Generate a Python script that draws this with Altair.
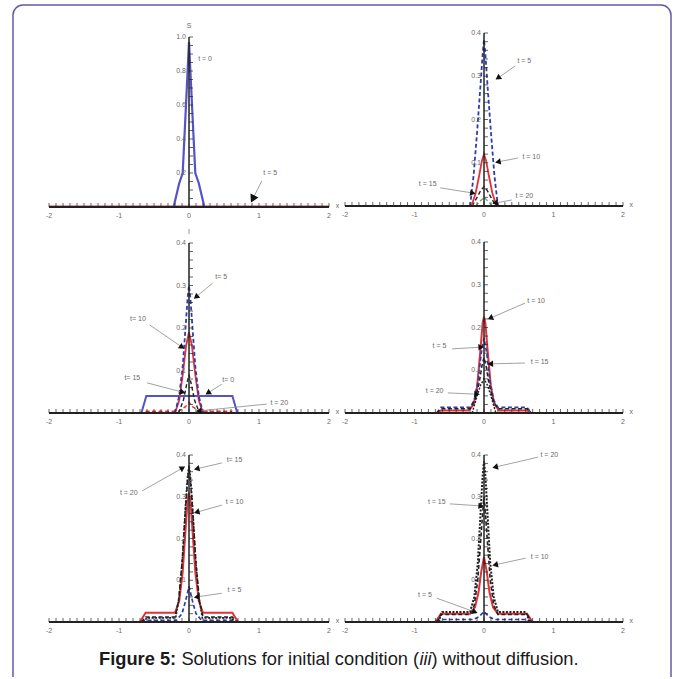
import math
import altair as alt
import pandas as pd

# ---------------- data ----------------
X_LABELS = [-2, -1, 0, 1, 2]
X_MINOR = [round(-2 + 0.1 * i, 2) for i in range(41)]

Y_LABELS_P1 = [0.2, 0.4, 0.6, 0.8, 1.0]
Y_LABEL_TEXT_P1 = ["0.2", "0.4", "0.6", "0.8", "1.0"]
Y_MINOR_P1 = [round(0.05 * i, 2) for i in range(1, 21)]
Y_LABELS_P = [0.1, 0.2, 0.3, 0.4]
Y_LABEL_TEXT_P = ["0.1", "0.2", "0.3", "0.4"]
Y_MINOR_P = [round(0.02 * i, 2) for i in range(1, 21)]

# Panel 1 (S)
P1_T0_X = [-0.22, -0.14, -0.09, -0.05, 0.0, 0.05, 0.09, 0.14, 0.22]
P1_T0_Y = [0.0, 0.14, 0.20, 0.54, 0.97, 0.54, 0.20, 0.14, 0.0]
P1_T5_X = [-2.0, 2.0]
P1_T5_Y = [0.003, 0.003]

# Panel 2
P2_T5_X = [-0.2, -0.15, -0.1, -0.05, -0.02, 0.0, 0.02, 0.05, 0.1, 0.15, 0.2]
P2_T5_Y = [0.0, 0.07, 0.17, 0.28, 0.35, 0.385, 0.35, 0.28, 0.17, 0.07, 0.0]
P2_T10_X = [-0.18, -0.12, -0.07, -0.03, 0.0, 0.03, 0.07, 0.12, 0.18]
P2_T10_Y = [0.0, 0.03, 0.07, 0.105, 0.12, 0.105, 0.07, 0.03, 0.0]
P2_T15_X = [-0.17, -0.1, -0.05, 0.0, 0.05, 0.1, 0.17]
P2_T15_Y = [0.0, 0.02, 0.035, 0.045, 0.035, 0.02, 0.0]
P2_T20_X = [-0.12, -0.05, 0.0, 0.05, 0.12]
P2_T20_Y = [0.0, 0.012, 0.02, 0.012, 0.0]

# Panel 3 (I)
P3_T0_X = [-0.68, -0.61, 0.62, 0.69]
P3_T0_Y = [0.0, 0.04, 0.04, 0.0]
P3_T5_X = [-0.2, -0.14, -0.09, -0.05, -0.02, 0.0, 0.02, 0.05, 0.09, 0.14, 0.2]
P3_T5_Y = [0.0, 0.04, 0.11, 0.2, 0.27, 0.3, 0.27, 0.2, 0.11, 0.04, 0.0]
P3_T10_X = [-0.2, -0.14, -0.09, -0.04, 0.0, 0.04, 0.09, 0.14, 0.2]
P3_T10_Y = [0.0, 0.03, 0.09, 0.16, 0.19, 0.16, 0.09, 0.03, 0.0]
P3_T15_X = [-0.15, -0.08, -0.03, 0.0, 0.03, 0.08, 0.15]
P3_T15_Y = [0.0, 0.03, 0.07, 0.09, 0.07, 0.03, 0.0]
P3_T20_X = [-0.62, -0.15, -0.05, 0.0, 0.05, 0.15, 0.62]
P3_T20_Y = [0.004, 0.004, 0.015, 0.025, 0.015, 0.004, 0.004]

# Panel 4
P4_T5_X = [-0.68, -0.62, -0.2, -0.14, -0.08, -0.04, 0.0, 0.04, 0.08, 0.14, 0.2, 0.62, 0.68]
P4_T5_Y = [0.0, 0.013, 0.013, 0.03, 0.08, 0.14, 0.175, 0.14, 0.08, 0.03, 0.013, 0.013, 0.0]
P4_T10_X = [-0.68, -0.62, -0.22, -0.15, -0.1, -0.05, -0.02, 0.0, 0.02, 0.05, 0.1, 0.15, 0.22, 0.62, 0.68]
P4_T10_Y = [0.0, 0.006, 0.006, 0.02, 0.06, 0.15, 0.21, 0.225, 0.21, 0.15, 0.06, 0.02, 0.006, 0.006, 0.0]
P4_T15_X = [-0.68, -0.62, -0.2, -0.13, -0.07, -0.03, 0.0, 0.03, 0.07, 0.13, 0.2, 0.62, 0.68]
P4_T15_Y = [0.0, 0.01, 0.01, 0.03, 0.07, 0.11, 0.13, 0.11, 0.07, 0.03, 0.01, 0.01, 0.0]
P4_T20_X = [-0.17, -0.1, -0.05, 0.0, 0.05, 0.1, 0.17]
P4_T20_Y = [0.0, 0.04, 0.065, 0.08, 0.065, 0.04, 0.0]

# Panel 5
P5_T5_X = [-0.68, -0.62, -0.18, -0.1, -0.05, 0.0, 0.05, 0.1, 0.18, 0.62, 0.68]
P5_T5_Y = [0.0, 0.004, 0.004, 0.02, 0.05, 0.085, 0.05, 0.02, 0.004, 0.004, 0.0]
P5_T10_X = [-0.7, -0.62, -0.2, -0.14, -0.09, -0.05, -0.02, 0.0, 0.02, 0.05, 0.09, 0.14, 0.2, 0.62, 0.7]
P5_T10_Y = [0.0, 0.022, 0.022, 0.05, 0.12, 0.22, 0.29, 0.31, 0.29, 0.22, 0.12, 0.05, 0.022, 0.022, 0.0]
P5_T15_X = [-0.68, -0.62, -0.2, -0.15, -0.1, -0.05, -0.02, 0.0, 0.02, 0.05, 0.1, 0.15, 0.2, 0.62, 0.68]
P5_T15_Y = [0.0, 0.012, 0.012, 0.05, 0.14, 0.27, 0.34, 0.37, 0.34, 0.27, 0.14, 0.05, 0.012, 0.012, 0.0]
P5_T20_X = [-0.66, -0.6, -0.19, -0.14, -0.09, -0.05, -0.02, 0.0, 0.02, 0.05, 0.09, 0.14, 0.19, 0.6, 0.66]
P5_T20_Y = [0.0, 0.01, 0.01, 0.06, 0.16, 0.28, 0.35, 0.375, 0.35, 0.28, 0.16, 0.06, 0.01, 0.01, 0.0]

# Panel 6
P6_T5_X = [-0.68, -0.62, -0.15, -0.07, 0.0, 0.07, 0.15, 0.62, 0.68]
P6_T5_Y = [0.0, 0.006, 0.006, 0.013, 0.025, 0.013, 0.006, 0.006, 0.0]
P6_T10_X = [-0.7, -0.62, -0.2, -0.13, -0.08, -0.04, 0.0, 0.04, 0.08, 0.13, 0.2, 0.62, 0.7]
P6_T10_Y = [0.0, 0.02, 0.02, 0.035, 0.07, 0.12, 0.155, 0.12, 0.07, 0.035, 0.02, 0.02, 0.0]
P6_T15_X = [-0.68, -0.62, -0.2, -0.14, -0.09, -0.05, -0.02, 0.0, 0.02, 0.05, 0.09, 0.14, 0.2, 0.62, 0.68]
P6_T15_Y = [0.0, 0.018, 0.018, 0.04, 0.1, 0.19, 0.26, 0.3, 0.26, 0.19, 0.1, 0.04, 0.018, 0.018, 0.0]
P6_T20_X = [-0.66, -0.6, -0.2, -0.14, -0.09, -0.05, -0.02, 0.0, 0.02, 0.05, 0.09, 0.14, 0.2, 0.6, 0.66]
P6_T20_Y = [0.0, 0.024, 0.024, 0.06, 0.14, 0.26, 0.35, 0.385, 0.35, 0.26, 0.14, 0.06, 0.024, 0.024, 0.0]

# Annotations: label, text x, text y, line-start x, y, head x, y
P1_ANN = [("t = 5", 1.16, 0.20, 1.04, 0.153, 0.91, 0.047)]
P1_TEXT = [("t = 0", 0.23, 0.87)]
P2_ANN = [("t = 5", 0.58, 0.335, 0.45, 0.324, 0.2, 0.296),
          ("t = 10", 0.68, 0.113, 0.49, 0.111, 0.2, 0.102),
          ("t = 15", -0.81, 0.051, -0.63, 0.042, -0.16, 0.03),
          ("t = 20", 0.58, 0.023, 0.4, 0.014, 0.16, 0.007)]
P3_ANN = [("t= 5", 0.46, 0.32, 0.34, 0.306, 0.1, 0.273),
          ("t= 10", -0.73, 0.221, -0.56, 0.207, -0.1, 0.155),
          ("t= 15", -0.81, 0.082, -0.6, 0.071, -0.09, 0.049),
          ("t= 0", 0.56, 0.078, 0.47, 0.068, 0.27, 0.047),
          ("t = 20", 1.29, 0.024, 1.11, 0.021, 0.14, 0.005)]
P4_ANN = [("t = 10", 0.75, 0.262, 0.59, 0.257, 0.09, 0.222),
          ("t = 5", -0.64, 0.157, -0.46, 0.15, -0.04, 0.154),
          ("t = 15", 0.8, 0.119, 0.59, 0.117, 0.09, 0.115),
          ("t = 20", -0.71, 0.051, -0.52, 0.047, -0.1, 0.044)]
P5_ANN = [("t= 15", 0.65, 0.388, 0.47, 0.381, 0.11, 0.367),
          ("t = 20", -0.86, 0.309, -0.67, 0.314, -0.09, 0.369),
          ("t = 10", 0.65, 0.287, 0.47, 0.28, 0.11, 0.263),
          ("t = 5", 0.65, 0.077, 0.47, 0.069, 0.11, 0.06)]
P6_ANN = [("t = 20", 0.94, 0.4, 0.78, 0.395, 0.16, 0.371),
          ("t = 15", -0.68, 0.287, -0.49, 0.283, -0.04, 0.278),
          ("t = 10", 0.8, 0.156, 0.6, 0.153, 0.16, 0.137),
          ("t = 5", -0.85, 0.065, -0.68, 0.057, -0.13, 0.024)]

CAPTION_PARTS = ["Figure 5:", "Solutions for initial condition (", "iii", ") without diffusion."]

# ---------------- styles ----------------
BLUE = "#5553c6"
BLUE_D = "#2f3cae"
RED = "#e0323a"
BLACK = "#222222"
GREEN = "#6aa86a"
GRAY = "#6a6a6a"
FRAME = "#625aa6"
FONT = "Liberation Sans"


def panel(curves, anns, texts, xdom, ydom, W, H, xppu, yppu, ymax,
          ylab_vals, ylab_text, yminor, ytitle=None, ytitle_y=None, arrow_size=42):
    xs = alt.Scale(domain=xdom, nice=False, zero=False)
    ys = alt.Scale(domain=ydom, nice=False, zero=False)

    def X(f):
        return alt.X(f, scale=xs, axis=None)

    def Y(f):
        return alt.Y(f, scale=ys, axis=None)

    layers = []
    for cx, cy, color, dash, sw in curves:
        df = pd.DataFrame({"x": cx, "y": cy, "o": list(range(len(cx)))})
        kw = dict(color=color, strokeWidth=sw, clip=False)
        if dash:
            kw["strokeDash"] = dash
        layers.append(alt.Chart(df).mark_line(**kw).encode(x=X("x:Q"), y=Y("y:Q"), order="o:Q"))

    # axes
    xl = pd.DataFrame({"x": [-2.0], "x2": [2.0], "y": [0.0]})
    layers.append(alt.Chart(xl).mark_rule(color=BLACK, strokeWidth=1.9).encode(
        x=X("x:Q"), x2="x2:Q", y=Y("y:Q")))
    yl = pd.DataFrame({"x": [0.0], "y": [0.0], "y2": [ymax]})
    layers.append(alt.Chart(yl).mark_rule(color=BLACK, strokeWidth=1.5).encode(
        x=X("x:Q"), y=Y("y:Q"), y2="y2:Q"))
    xt = pd.DataFrame({"x": X_MINOR, "y": [0.0] * len(X_MINOR)})
    layers.append(alt.Chart(xt).mark_tick(orient="vertical", size=4, thickness=1,
                                          color=BLACK, yOffset=-2).encode(x=X("x:Q"), y=Y("y:Q")))
    yt = pd.DataFrame({"x": [0.0] * len(yminor), "y": yminor})
    layers.append(alt.Chart(yt).mark_tick(orient="horizontal", size=4, thickness=1,
                                          color=BLACK, xOffset=2).encode(x=X("x:Q"), y=Y("y:Q")))
    xlab = pd.DataFrame({"x": X_LABELS, "y": [0.0] * 5, "t": [str(v) for v in X_LABELS]})
    layers.append(alt.Chart(xlab).mark_text(fontSize=7, color=GRAY, font=FONT, dy=9).encode(
        x=X("x:Q"), y=Y("y:Q"), text="t:N"))
    ylab = pd.DataFrame({"x": [0.0] * len(ylab_vals), "y": ylab_vals, "t": ylab_text})
    layers.append(alt.Chart(ylab).mark_text(fontSize=7, color=GRAY, font=FONT, align="right", dx=-3).encode(
        x=X("x:Q"), y=Y("y:Q"), text="t:N"))
    xname = pd.DataFrame({"x": [2.12], "y": [0.0], "t": ["x"]})
    layers.append(alt.Chart(xname).mark_text(fontSize=7, color=GRAY, font=FONT, dy=-1).encode(
        x=X("x:Q"), y=Y("y:Q"), text="t:N"))
    if ytitle:
        yn = pd.DataFrame({"x": [0.0], "y": [ytitle_y], "t": [ytitle]})
        layers.append(alt.Chart(yn).mark_text(fontSize=7, color=GRAY, font=FONT).encode(
            x=X("x:Q"), y=Y("y:Q"), text="t:N"))

    # annotations
    if anns:
        rows = []
        for lab, tx, ty, sx, sy, hx, hy in anns:
            dx = (hx - sx) * xppu
            dy = -(hy - sy) * yppu
            ang = math.degrees(math.atan2(dx, -dy)) % 360
            rows.append({"lab": lab, "tx": tx, "ty": ty, "sx": sx, "sy": sy,
                         "hx": hx, "hy": hy, "ang": ang})
        adf = pd.DataFrame(rows)
        layers.append(alt.Chart(adf).mark_rule(color="#8a8a8a", strokeWidth=0.8).encode(
            x=X("sx:Q"), y=Y("sy:Q"), x2="hx:Q", y2="hy:Q"))
        layers.append(alt.Chart(adf).mark_point(shape="triangle-up", filled=True, color="#111111",
                                                opacity=1, size=arrow_size).encode(
            x=X("hx:Q"), y=Y("hy:Q"), angle=alt.Angle("ang:Q", scale=None)))
        layers.append(alt.Chart(adf).mark_text(fontSize=7, color=GRAY, font=FONT).encode(
            x=X("tx:Q"), y=Y("ty:Q"), text="lab:N"))
    if texts:
        tdf = pd.DataFrame({"lab": [t[0] for t in texts], "tx": [t[1] for t in texts],
                            "ty": [t[2] for t in texts]})
        layers.append(alt.Chart(tdf).mark_text(fontSize=7, color=GRAY, font=FONT).encode(
            x=X("tx:Q"), y=Y("ty:Q"), text="lab:N"))

    return alt.layer(*layers).properties(width=W, height=H)


XL = [-2.6286, 2.1714]
XR = [-2.0576, 2.7769]
DASH = [4, 2.5]
DOT = [2, 1.5]

p1 = panel([(P1_T5_X, P1_T5_Y, RED, None, 2.0),
            (P1_T0_X, P1_T0_Y, BLUE, None, 2.2)],
           P1_ANN, P1_TEXT, XL, [-0.0588, 1.2059], 336, 215, 70, 170, 1.0,
           Y_LABELS_P1, Y_LABEL_TEXT_P1, Y_MINOR_P1, "S", 1.065, arrow_size=80)
p2 = panel([(P2_T20_X, P2_T20_Y, GREEN, DASH, 1.3),
            (P2_T15_X, P2_T15_Y, BLACK, DASH, 1.4),
            (P2_T10_X, P2_T10_Y, RED, None, 1.8),
            (P2_T5_X, P2_T5_Y, BLUE_D, DASH, 1.8)],
           P2_ANN, None, XR, [-0.0254, 0.4717], 336, 215, 69.5, 432.5, 0.4,
           Y_LABELS_P, Y_LABEL_TEXT_P, Y_MINOR_P)
p3 = panel([(P3_T0_X, P3_T0_Y, BLUE, None, 2.0),
            (P3_T20_X, P3_T20_Y, RED, DASH, 1.4),
            (P3_T15_X, P3_T15_Y, BLACK, DASH, 1.4),
            (P3_T10_X, P3_T10_Y, RED, None, 1.8),
            (P3_T5_X, P3_T5_Y, BLUE_D, DASH, 1.8)],
           P3_ANN, None, XL, [-0.0329, 0.4612], 336, 210, 70, 425, 0.4,
           Y_LABELS_P, Y_LABEL_TEXT_P, Y_MINOR_P, "I", 0.426)
p4 = panel([(P4_T10_X, P4_T10_Y, RED, None, 2.0),
            (P4_T5_X, P4_T5_Y, BLUE_D, DASH, 1.7),
            (P4_T15_X, P4_T15_Y, BLACK, DASH, 1.5),
            (P4_T20_X, P4_T20_Y, BLACK, DOT, 1.5)],
           P4_ANN, None, XR, [-0.0327, 0.4585], 336, 210, 69.5, 427.5, 0.4,
           Y_LABELS_P, Y_LABEL_TEXT_P, Y_MINOR_P)
p5 = panel([(P5_T5_X, P5_T5_Y, BLUE_D, DASH, 1.7),
            (P5_T10_X, P5_T10_Y, RED, None, 2.0),
            (P5_T15_X, P5_T15_Y, BLACK, DASH, 1.6),
            (P5_T20_X, P5_T20_Y, BLACK, DOT, 1.6)],
           P5_ANN, None, XL, [-0.0359, 0.4671], 336, 210, 70, 417.5, 0.4,
           Y_LABELS_P, Y_LABEL_TEXT_P, Y_MINOR_P)
p6 = panel([(P6_T5_X, P6_T5_Y, BLUE_D, DASH, 1.7),
            (P6_T10_X, P6_T10_Y, RED, None, 2.0),
            (P6_T15_X, P6_T15_Y, BLACK, DASH, 1.6),
            (P6_T20_X, P6_T20_Y, BLACK, DOT, 2.0)],
           P6_ANN, None, XR, [-0.0359, 0.4671], 336, 210, 69.5, 417.5, 0.4,
           Y_LABELS_P, Y_LABEL_TEXT_P, Y_MINOR_P)

# caption + frame (caption cell is 336 wide; text and frame overflow it on purpose)
one = pd.DataFrame({"a": [0]})
fs = 18.3
cap_layers = []
cap_x = [94, 176.4, 414.4, 426.6]
cap_w = ["bold", "normal", "normal", "normal"]
cap_s = ["normal", "normal", "italic", "normal"]
for txt, cx, fw, st in zip(CAPTION_PARTS, cap_x, cap_w, cap_s):
    cap_layers.append(alt.Chart(one).mark_text(
        text=txt, font=FONT, fontSize=fs, fontWeight=fw, fontStyle=st, color="#1a1a1a",
        align="left", baseline="alphabetic").encode(x=alt.value(cx), y=alt.value(28)))

frame_kw = dict(color=FRAME, strokeWidth=1.5)
cap_layers.append(alt.Chart(one).mark_rule(**frame_kw).encode(
    x=alt.value(18), x2=alt.value(656), y=alt.value(-632)))
cap_layers.append(alt.Chart(one).mark_rule(**frame_kw).encode(
    x=alt.value(8), y=alt.value(-622), y2=alt.value(40)))
cap_layers.append(alt.Chart(one).mark_rule(**frame_kw).encode(
    x=alt.value(666), y=alt.value(-622), y2=alt.value(40)))
cap_layers.append(alt.Chart(one).mark_arc(
    radius=10, radius2=10, theta=3 * math.pi / 2, theta2=2 * math.pi,
    stroke=FRAME, strokeWidth=1.5, fillOpacity=0).encode(x=alt.value(18), y=alt.value(-622)))
cap_layers.append(alt.Chart(one).mark_arc(
    radius=10, radius2=10, theta=0, theta2=math.pi / 2,
    stroke=FRAME, strokeWidth=1.5, fillOpacity=0).encode(x=alt.value(656), y=alt.value(-622)))
caption = alt.layer(*cap_layers).properties(width=336, height=40)

chart = alt.concat(p1, p2, p3, p4, p5, p6, caption, columns=2, spacing=0,
                   bounds="flush", align="each").properties(
    padding={"left": 5, "top": 2, "right": 0, "bottom": 0},
    background="white",
).configure_view(strokeWidth=0)

chart.save("out.html", embed_options={"renderer": "svg", "actions": False})
